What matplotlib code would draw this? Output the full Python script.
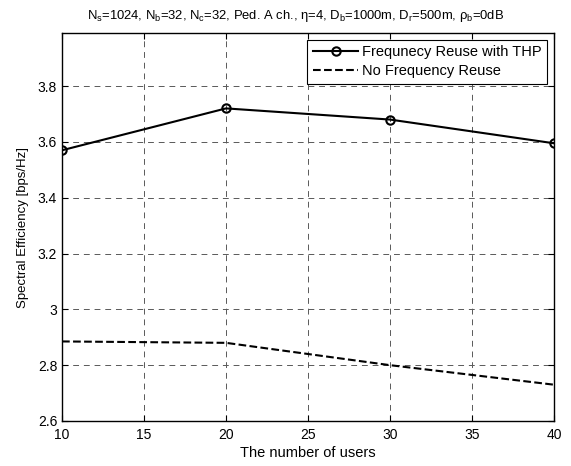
import matplotlib
matplotlib.use("Agg")
import matplotlib.pyplot as plt

users = [10, 20, 30, 40]
se_thp = [3.57, 3.72, 3.68, 3.595]
se_noreuse = [2.885, 2.88, 2.80, 2.73]

plt.rcParams["font.family"] = ["Liberation Sans", "DejaVu Sans"]
plt.rcParams["font.size"] = 10

fig = plt.figure(figsize=(5.71, 4.66), dpi=100)
ax = fig.add_axes([0.1086, 0.0966, 0.8616, 0.8325])

ax.plot(users, se_thp, "k-o", lw=1.5, mfc="none", mew=1.5, ms=6,
        label="Frequnecy Reuse with THP")
ax.plot(users, se_noreuse, "k--", lw=1.5, label="No Frequency Reuse")

ax.set_xlim(10, 40)
ax.set_ylim(2.6, 3.99)
ax.set_xticks(range(10, 41, 5))
ax.set_yticks([2.6, 2.8, 3.0, 3.2, 3.4, 3.6, 3.8])
ax.set_yticklabels(["2.6", "2.8", "3", "3.2", "3.4", "3.6", "3.8"])
ax.grid(True, color="0.35", ls=(0, (6, 5)), lw=0.7)
ax.tick_params(direction="in", top=True, right=True, length=4)
ax.tick_params(axis="x", pad=5)
for s in ax.spines.values():
    s.set_linewidth(1)

ax.set_xlabel("The number of users", fontsize=10.5, labelpad=3)
ax.set_ylabel("Spectral Efficiency [bps/Hz]", fontsize=9.5, labelpad=6)
ax.set_title(r"N$_\mathregular{s}$=1024, N$_\mathregular{b}$=32, N$_\mathregular{c}$=32, Ped. A ch., "
             r"$\mathregular{\eta}$=4, D$_\mathregular{b}$=1000m, D$_\mathregular{r}$=500m, "
             r"$\mathregular{\rho}_\mathregular{b}$=0dB", fontsize=9.4, pad=10, x=0.475)

leg = ax.legend(loc="upper right", fancybox=False, edgecolor="k", framealpha=1,
                handlelength=3.1, handletextpad=0.25, labelspacing=0.3,
                borderaxespad=0.45, borderpad=0.4, fontsize=10.5)
leg.get_frame().set_linewidth(0.8)

fig.savefig("out.png", dpi=100)
